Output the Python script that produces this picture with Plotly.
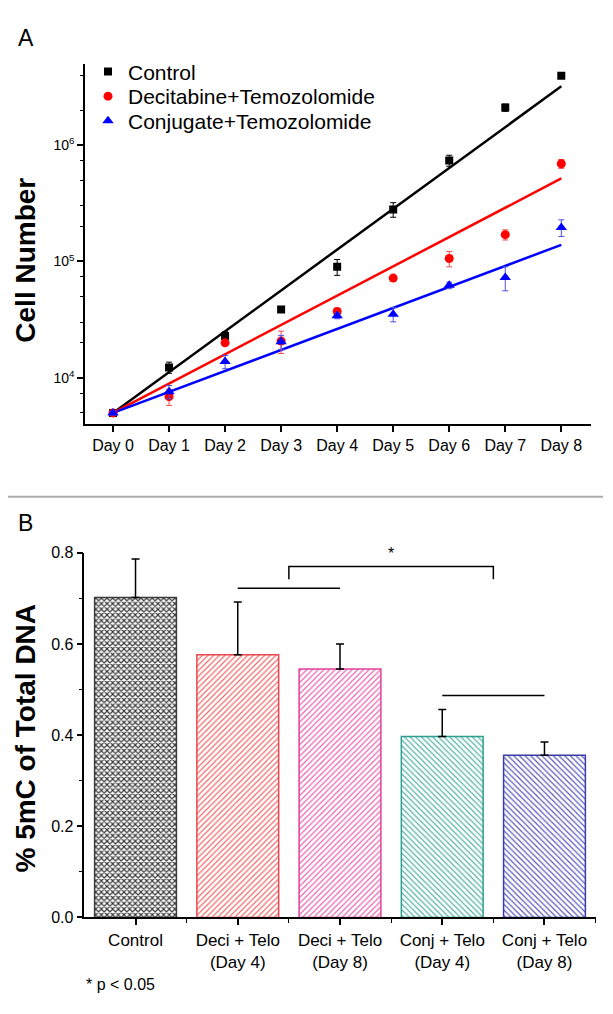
import math
import plotly.graph_objects as go

# ---------------- Panel A data ----------------
days = [0, 1, 2, 3, 4, 5, 6, 7, 8]
day_labels = ["Day 0", "Day 1", "Day 2", "Day 3", "Day 4", "Day 5", "Day 6", "Day 7", "Day 8"]

control = [5000, 12300, 22900, 38700, 90000, 280000, 738000, 2100000, 3940000]
control_err = [250, 1350, 2000, 1500, 14000, 40000, 80000, 150000, 150000]

deci = [5000, 6900, 20000, 20700, 37200, 72000, 106000, 170000, 692000]
deci_err = [200, 1100, 1000, 4500, 2500, 4000, 16000, 17000, 60000]

conj = [5000, 7600, 13800, 20400, 34200, 35300, 62400, 73000, 196000]
conj_err = [200, 1000, 1800, 2800, 2000, 5000, 4000, 17000, 32000]

# exponential fit lines (value at Day 0 and at Day 8)
fit_days = [0, 8]
control_fit = [5000, 3200000]
deci_fit = [5000, 517000]
conj_fit = [5000, 139000]

series_names = ["Control", "Decitabine+Temozolomide", "Conjugate+Temozolomide"]

y_major = [1e4, 1e5, 1e6]
y_major_text = ["10<sup>4</sup>", "10<sup>5</sup>", "10<sup>6</sup>"]
minor_log = [5000, 7300, 20000, 30000, 50000, 74000, 200000, 300000, 500000, 740000,
             2000000, 4000000]

# ---------------- Panel B data ----------------
groups = ["Control", "Deci + Telo<br>(Day 4)", "Deci + Telo<br>(Day 8)",
          "Conj + Telo<br>(Day 4)", "Conj + Telo<br>(Day 8)"]
pct_5mc = [0.702, 0.576, 0.545, 0.397, 0.356]
pct_err = [0.084, 0.116, 0.055, 0.059, 0.029]
# significance: (bar a, bar b, height)
sig_lines = [(1, 2, 0.722), (3, 4, 0.487)]
bracket = (1.5, 3.5, 0.770, 0.742)

FONT = "Liberation Sans, Arial, Helvetica, sans-serif"
W, H = 613, 1014


def px_x(p):
    return p / W


def px_y(p):
    return 1 - p / H


fig = go.Figure()

colors = ["#000000", "#FF0000", "#0000FF"]
err_colors = ["#000000", "#F05050", "#5050E0"]
symbols = ["square", "circle", "triangle-up"]
msizes = [8, 9, 10]
vals = [control, deci, conj]
errs = [control_err, deci_err, conj_err]
fits = [control_fit, deci_fit, conj_fit]
legend_ids = ["legend", "legend2", "legend3"]

for i in range(3):
    fig.add_trace(go.Scatter(
        x=fit_days, y=fits[i], mode="lines",
        line=dict(color=colors[i], width=2.5),
        showlegend=False, hoverinfo="skip", xaxis="x", yaxis="y"))

for i in range(3):
    fig.add_trace(go.Scatter(
        x=days, y=vals[i], mode="markers", name=series_names[i],
        marker=dict(symbol=symbols[i], size=msizes[i], color=colors[i],
                    line=dict(width=0)),
        error_y=dict(type="data", array=errs[i], visible=True,
                     color=err_colors[i], thickness=1, width=3),
        legend=legend_ids[i],
        xaxis="x", yaxis="y"))

# bars
bar_border = ["#3a3a3a", "#E8474B", "#E0409A", "#2E9E90", "#3B3BA8"]
bar_shape = ["x", "/", "/", "\\", "\\"]
bar_fg = ["#3a3a3a", "#EE6A6A", "#E566B2", "#55B3A8", "#5A5AB8"]
bar_size = [4, 4, 4, 4, 4]
bar_sol = [0.5, 0.3, 0.3, 0.3, 0.3]

fig.add_trace(go.Bar(
    x=list(range(len(groups))), y=pct_5mc, width=0.8,
    marker=dict(color="white",
                line=dict(color=bar_border, width=1.5),
                pattern=dict(shape=bar_shape, fgcolor=bar_fg, bgcolor="white",
                             size=bar_size, solidity=bar_sol, fillmode="replace")),
    error_y=dict(type="data", symmetric=False, array=pct_err,
                 arrayminus=[0] * len(pct_err), color="black",
                 thickness=1.5, width=4),
    showlegend=False, xaxis="x2", yaxis="y2"))

# significance lines
shapes = []
for a, b, h in sig_lines:
    shapes.append(dict(type="line", xref="x2", yref="y2", x0=a, x1=b, y0=h, y1=h,
                       line=dict(color="black", width=1.5)))
bx0, bx1, btop, bleg = bracket
shapes.append(dict(type="path", xref="x2", yref="y2",
                   path=f"M {bx0},{bleg} L {bx0},{btop} L {bx1},{btop} L {bx1},{bleg}",
                   line=dict(color="black", width=1.5)))
# separator
shapes.append(dict(type="line", xref="paper", yref="paper",
                   x0=px_x(8), x1=px_x(603), y0=px_y(497), y1=px_y(497),
                   line=dict(color="#AAAAAA", width=2)))

annotations = [
    dict(text="A", x=px_x(16), y=px_y(31), xref="paper", yref="paper",
         xanchor="left", yanchor="middle", showarrow=False,
         font=dict(family=FONT, size=23, color="black")),
    dict(text="B", x=px_x(16), y=px_y(524), xref="paper", yref="paper",
         xanchor="left", yanchor="middle", showarrow=False,
         font=dict(family=FONT, size=23, color="black")),
    dict(text="<b>Cell Number</b>", x=px_x(26), y=px_y(257), xref="paper", yref="paper",
         xanchor="center", yanchor="middle", textangle=-90, showarrow=False,
         font=dict(family=FONT, size=28, color="black")),
    dict(text="<b>% 5mC of Total DNA</b>", x=px_x(26), y=px_y(743), xref="paper",
         yref="paper", xanchor="center", yanchor="middle", textangle=-90,
         showarrow=False, font=dict(family=FONT, size=28, color="black")),
    dict(text="* p < 0.05", x=px_x(84), y=px_y(993), xref="paper", yref="paper",
         xanchor="left", yanchor="middle", showarrow=False,
         font=dict(family=FONT, size=16, color="black")),
    dict(text="*", x=(bx0 + bx1) / 2, y=btop, xref="x2", yref="y2",
         xanchor="center", yanchor="bottom", showarrow=False, yshift=2,
         font=dict(family=FONT, size=16, color="black")),
]

axis_common = dict(showline=True, linecolor="black", linewidth=1.5, ticks="outside",
                   ticklen=6, tickwidth=1.5, tickcolor="black", showgrid=False,
                   zeroline=False, mirror=False)

legend_rows = [65, 90, 115]
legend_common = dict(xanchor="left", yanchor="middle", bgcolor="rgba(0,0,0,0)",
                     font=dict(size=21, family=FONT, color="black"),
                     itemsizing="trace", borderwidth=0)

fig.update_layout(
    width=W, height=H,
    margin=dict(l=0, r=0, t=0, b=0),
    paper_bgcolor="white", plot_bgcolor="white",
    font=dict(family=FONT, color="black"),
    xaxis=dict(domain=[px_x(85), px_x(591)], anchor="y", range=[-0.5, 8.53],
               tickmode="array", tickvals=days, ticktext=day_labels,
               tickfont=dict(size=16, family=FONT), **axis_common),
    yaxis=dict(domain=[px_y(423.3), px_y(56.7)], anchor="x", type="log",
               range=[math.log10(4000), math.log10(5.0e6)],
               tickmode="array", tickvals=y_major, ticktext=y_major_text,
               tickfont=dict(size=14, family=FONT),
               minor=dict(tickmode="array", tickvals=minor_log, ticks="outside",
                          ticklen=3, tickwidth=1.2, tickcolor="black"),
               **axis_common),
    xaxis2=dict(domain=[px_x(84.4), px_x(595.6)], anchor="y2", range=[-0.5, 4.5],
                tickmode="array", tickvals=list(range(len(groups))), ticktext=groups,
                tickfont=dict(size=17, family=FONT),
                minor=dict(tickmode="array", tickvals=[0.5, 1.5, 2.5, 3.5, 4.5],
                           ticks="outside", ticklen=4, tickwidth=1.2,
                           tickcolor="black"),
                **axis_common),
    yaxis2=dict(domain=[px_y(925), px_y(554)], anchor="x2", range=[0, 0.8],
                tickmode="linear", tick0=0, dtick=0.2, tickformat=".1f",
                tickfont=dict(size=16, family=FONT),
                minor=dict(dtick=0.1, ticks="outside", ticklen=4, tickwidth=1.2,
                           tickcolor="black"),
                **axis_common),
    legend=dict(x=px_x(88), y=px_y(legend_rows[0]), **legend_common),
    legend2=dict(x=px_x(88), y=px_y(legend_rows[1]), **legend_common),
    legend3=dict(x=px_x(88), y=px_y(legend_rows[2]), **legend_common),
    shapes=shapes,
    annotations=annotations,
    bargap=0.2,
)

fig.write_html("out.html", config={"displayModeBar": False},
               post_script="document.body.style.margin='0px';")
